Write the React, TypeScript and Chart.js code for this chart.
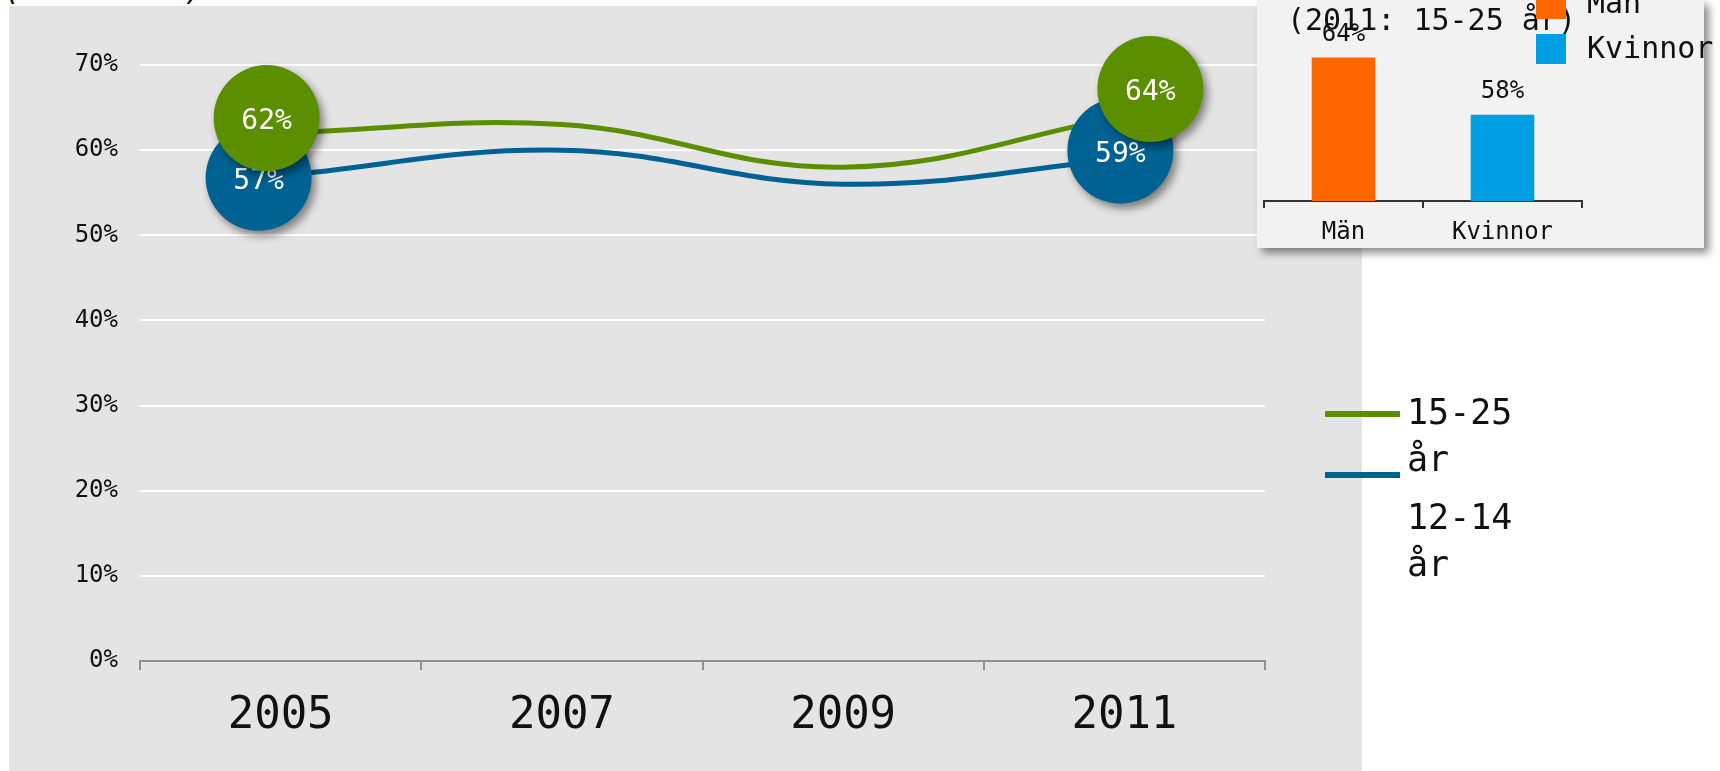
import React, { useEffect, useRef } from "react";
import { Chart, registerables } from "chart.js";

Chart.register(...registerables);

// ---------- data ----------
const years = ["2005", "2007", "2009", "2011"];
const seriesLabels = ["15-25 år", "12-14 år"];
const values1525 = [62, 63, 58, 64];
const values1214 = [57, 60, 56, 59];
const yMin = 0;
const yMax = 70;
const yStep = 10;

const insetTitle = "(2011: 15-25 år)";
const insetCategories = ["Män", "Kvinnor"];
const insetValues = [64, 58];
const pageTitle = "(årssummer) -";

// ---------- styles ----------
const FONT = '"DejaVu Sans Mono", monospace';
const GREEN = "#5B8F00";
const BLUE = "#006292";
const ORANGE = "#FF6600";
const LIGHTBLUE = "#009FE3";
const TEXT = "#111111";
// bubble label offsets (px) relative to the data point, per series, per category
const bubbleOffsets: (number[] | null)[][] = [
  [[-14, -15], null, null, [26, -27]],
  [[-22, 2], null, null, [-4, -8]],
];
const BUBBLE_R = 53;

const bubblePlugin = {
  id: "bubbles",
  afterDatasetsDraw(chart: any) {
    const ctx = chart.ctx;
    const order = [1, 0];
    for (const di of order) {
      const meta = chart.getDatasetMeta(di);
      const ds = chart.data.datasets[di];
      meta.data.forEach((pt: any, i: number) => {
        const o = bubbleOffsets[di][i];
        if (!o) return;
        const x = pt.x + o[0];
        const y = pt.y + o[1];
        ctx.save();
        ctx.shadowColor = "rgba(0,0,0,0.45)";
        ctx.shadowBlur = 8;
        ctx.shadowOffsetX = 4;
        ctx.shadowOffsetY = 5;
        ctx.beginPath();
        ctx.arc(x, y, BUBBLE_R, 0, Math.PI * 2);
        ctx.fillStyle = ds.borderColor;
        ctx.fill();
        ctx.restore();
        ctx.save();
        ctx.fillStyle = "#ffffff";
        ctx.font = `28px ${FONT}`;
        ctx.textAlign = "center";
        ctx.textBaseline = "middle";
        ctx.fillText(`${ds.data[i]}%`, x, y + 4);
        ctx.restore();
      });
    }
  },
};

const sideLegendPlugin = {
  id: "sideLegend",
  afterDraw(chart: any) {
    const ctx = chart.ctx;
    const right = chart.chartArea.right;
    const lineYs = [414, 475];
    const textYs = [415, 520];
    chart.data.datasets.forEach((ds: any, i: number) => {
      ctx.save();
      ctx.strokeStyle = ds.borderColor;
      ctx.lineWidth = 6;
      ctx.beginPath();
      ctx.moveTo(right + 60, lineYs[i]);
      ctx.lineTo(right + 135, lineYs[i]);
      ctx.stroke();
      ctx.fillStyle = TEXT;
      ctx.font = `35px ${FONT}`;
      ctx.textAlign = "left";
      ctx.textBaseline = "middle";
      const parts = String(ds.label).split(" ");
      parts.forEach((p: string, k: number) => {
        ctx.fillText(p, right + 142, textYs[i] + k * 47);
      });
      ctx.restore();
    });
  },
};

const insetPlugin = {
  id: "insetDecor",
  afterDraw(chart: any) {
    const ctx = chart.ctx;
    const meta = chart.getDatasetMeta(0);
    const ds = chart.data.datasets[0];
    ctx.save();
    ctx.fillStyle = TEXT;
    ctx.textAlign = "center";
    ctx.textBaseline = "middle";
    ctx.font = `24px ${FONT}`;
    meta.data.forEach((bar: any, i: number) => {
      ctx.fillText(`${ds.data[i]}%`, bar.x, bar.y - 23);
    });
    // title
    ctx.font = `30px ${FONT}`;
    ctx.textAlign = "left";
    ctx.fillText(insetTitle, chart.chartArea.left + 23, 22);
    // legend
    const colors = ds.backgroundColor as string[];
    chart.data.labels.forEach((lab: string, i: number) => {
      const y = -11 + i * 45;
      ctx.fillStyle = colors[i];
      ctx.fillRect(279, y, 30, 30);
      ctx.fillStyle = TEXT;
      ctx.font = `30px ${FONT}`;
      ctx.fillText(lab, 330, y + 16);
    });
    ctx.restore();
  },
};

export default function App() {
  const mainRef = useRef<HTMLCanvasElement>(null);
  const insetRef = useRef<HTMLCanvasElement>(null);

  useEffect(() => {
    const main = new Chart(mainRef.current!, {
      type: "line",
      data: {
        labels: years,
        datasets: [
          {
            label: seriesLabels[0],
            data: values1525,
            borderColor: GREEN,
            backgroundColor: GREEN,
            borderWidth: 5,
            tension: 0.4,
            pointRadius: 0,
            fill: false,
          },
          {
            label: seriesLabels[1],
            data: values1214,
            borderColor: BLUE,
            backgroundColor: BLUE,
            borderWidth: 5,
            tension: 0.4,
            pointRadius: 0,
            fill: false,
          },
        ],
      },
      options: {
        animation: false,
        responsive: true,
        maintainAspectRatio: false,
        layout: { padding: { left: 0, right: 455, top: 65, bottom: 0 } },
        plugins: { legend: { display: false }, tooltip: { enabled: false } },
        scales: {
          x: {
            offset: true,
            grid: {
              offset: true,
              drawOnChartArea: false,
              drawTicks: true,
              tickLength: 9,
              color: "#8f8f8f",
              lineWidth: 2,
            },
            border: { color: "#8f8f8f", width: 2 },
            ticks: { font: { family: FONT, size: 44 }, color: TEXT, padding: 20 },
            afterFit: (s: any) => {
              s.height = 110;
            },
          },
          y: {
            min: yMin,
            max: yMax,
            ticks: {
              stepSize: yStep,
              callback: (v: any) => `${v}%`,
              font: { family: FONT, size: 24 },
              color: TEXT,
              padding: 22,
            },
            grid: {
              color: (c: any) => (c.tick && c.tick.value === 0 ? "rgba(0,0,0,0)" : "#ffffff"),
              lineWidth: 2,
              drawTicks: false,
            },
            border: { display: false },
            afterFit: (s: any) => {
              s.width = 140;
            },
          },
        },
      },
      plugins: [bubblePlugin, sideLegendPlugin],
    });

    const inset = new Chart(insetRef.current!, {
      type: "bar",
      data: {
        labels: insetCategories,
        datasets: [
          {
            data: insetValues,
            backgroundColor: [ORANGE, LIGHTBLUE],
            categoryPercentage: 1,
            barPercentage: 0.4,
          },
        ],
      },
      options: {
        animation: false,
        responsive: true,
        maintainAspectRatio: false,
        layout: { padding: { left: 7, right: 138, top: 0, bottom: 0 } },
        plugins: { legend: { display: false }, tooltip: { enabled: false } },
        scales: {
          x: {
            offset: true,
            grid: {
              offset: true,
              drawOnChartArea: false,
              drawTicks: true,
              tickLength: 7,
              color: "#333333",
              lineWidth: 2,
            },
            border: { color: "#333333", width: 2 },
            ticks: { font: { family: FONT, size: 24 }, color: TEXT, padding: 10 },
            afterFit: (s: any) => {
              s.height = 47;
            },
          },
          y: { display: false, min: 49, max: 70 },
        },
      },
      plugins: [insetPlugin],
    });

    return () => {
      main.destroy();
      inset.destroy();
    };
  }, []);

  return (
    <div style={{ position: "absolute", left: 0, top: 0, width: 1720, height: 771, overflow: "hidden", background: "#ffffff" }}>
      <div
        style={{
          position: "absolute",
          left: 4,
          top: -28,
          font: `italic 30px ${FONT}`,
          color: "#000",
          whiteSpace: "nowrap",
          lineHeight: "35px",
        }}
      >
        {pageTitle}
      </div>
      <div style={{ position: "absolute", left: 9, top: 6, width: 1353, height: 765, background: "#e4e4e4" }} />
      <div style={{ position: "absolute", left: 0, top: 0, width: 1720, height: 771 }}>
        <canvas ref={mainRef} />
      </div>
      <div
        style={{
          position: "absolute",
          left: 1257,
          top: 0,
          width: 447,
          height: 248,
          background: "#f2f2f2",
          boxShadow: "5px 5px 8px rgba(0,0,0,0.45)",
        }}
      />
      <div style={{ position: "absolute", left: 1257, top: 0, width: 463, height: 248 }}>
        <canvas ref={insetRef} />
      </div>
    </div>
  );
}
